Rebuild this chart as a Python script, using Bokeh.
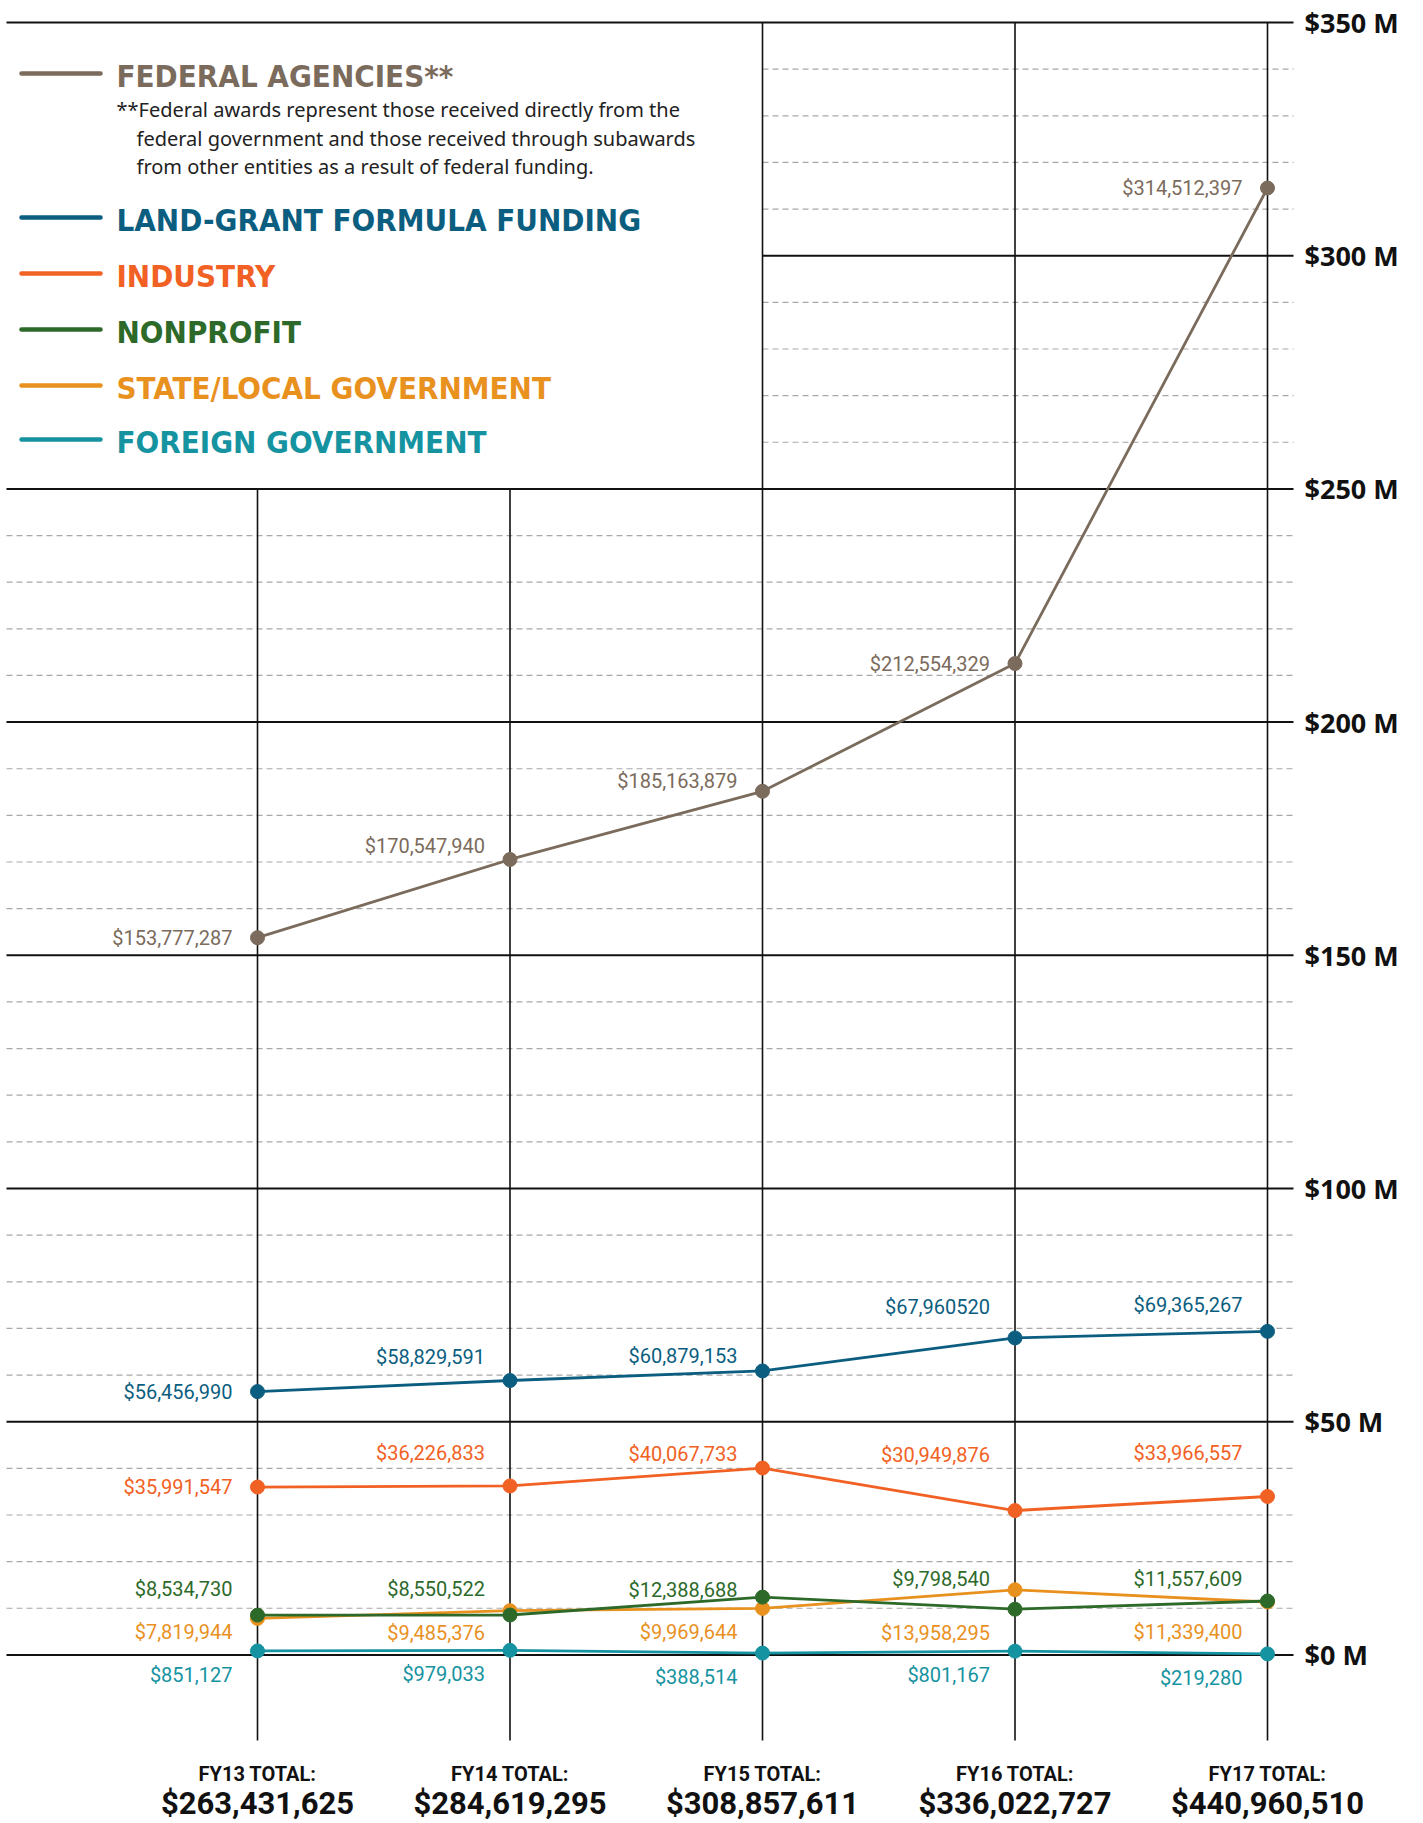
from bokeh.plotting import figure
from bokeh.models import Range1d, ColumnDataSource
from bokeh.core.properties import value
from bokeh.embed import file_html
from bokeh.resources import INLINE

# ---------------- data ----------------
years = ["FY13", "FY14", "FY15", "FY16", "FY17"]
federal = [153777287, 170547940, 185163879, 212554329, 314512397]
land_grant = [56456990, 58829591, 60879153, 67960520, 69365267]
industry = [35991547, 36226833, 40067733, 30949876, 33966557]
nonprofit = [8534730, 8550522, 12388688, 9798540, 11557609]
state_local = [7819944, 9485376, 9969644, 13958295, 11339400]
foreign = [851127, 979033, 388514, 801167, 219280]
y_ticks = [0, 50, 100, 150, 200, 250, 300, 350]
legend_names = ["FEDERAL AGENCIES**", "LAND-GRANT FORMULA FUNDING", "INDUSTRY",
                "NONPROFIT", "STATE/LOCAL GOVERNMENT", "FOREIGN GOVERNMENT"]
footnote = ["**Federal awards represent those received directly from the",
            "federal government and those received through subawards",
            "from other entities as a result of federal funding."]
label_overrides = {("land", 3): "$67,960520"}

# ---------------- styling ----------------
C_FED = "#7b6b5c"
C_LAND = "#0c5e80"
C_IND = "#f26124"
C_NON = "#2d6a2a"
C_STATE = "#e8911f"
C_FOR = "#1693a1"
LABEL_FONT = "Roboto"

W, H = 1423, 1823
X0, XS = 257.0, 252.5     # px of FY13, px per year
Y0, YS = 1654.4, 4.664    # px of $0, px per $1M


def X(px):
    return (px - X0) / XS


def Y(py):
    return (Y0 - py) / YS


p = figure(width=W, height=H, x_range=Range1d(X(0), X(W)), y_range=Range1d(Y(H), Y(0)),
           output_backend="svg", toolbar_location=None, x_axis_type=None, y_axis_type=None,
           min_border=0, min_border_left=0, min_border_right=0, min_border_top=0,
           min_border_bottom=0)
p.grid.visible = False
p.outline_line_color = None
p.background_fill_color = "white"
p.border_fill_color = "white"

LEFT = X(6)
RIGHT = X(1293)
MID = 2  # FY15 index, legend box right edge
BOTTOM = Y(1740)

# dashed minor grid lines
dx0, dx1, dy = [], [], []
for v in range(10, 350, 10):
    if v % 50 == 0:
        continue
    dx0.append(MID if v > 250 else LEFT)
    dx1.append(RIGHT)
    dy.append(v)
p.segment(x0=dx0, y0=dy, x1=dx1, y1=dy, line_color="#a8a8a8", line_width=1.2, line_dash="6 4")

# solid major lines
sx0 = [MID if v == 300 else LEFT for v in y_ticks]
p.segment(x0=sx0, y0=y_ticks, x1=[RIGHT] * len(y_ticks), y1=y_ticks,
          line_color="#111111", line_width=2)

# vertical year lines
xs = list(range(len(years)))
vtop = [250 if i < 2 else 350 for i in xs]
p.segment(x0=xs, y0=vtop, x1=xs, y1=[BOTTOM] * len(xs), line_color="#111111", line_width=1.6)

# right axis labels
p.text(x=[X(1304)] * len(y_ticks), y=y_ticks, text=[f"${v} M" for v in y_ticks],
       text_font=value("Noto Sans"), text_font_style="bold", text_font_size=value("27px"),
       text_color="#111111", text_align="left", text_baseline="middle")

# ---------------- series ----------------
series = [
    ("state", state_local, C_STATE, [14, 22, 24, 43, 30]),
    ("non", nonprofit, C_NON, [-26, -26, -7, -30, -22]),
    ("for", foreign, C_FOR, [24, 24, 24, 24, 24]),
    ("ind", industry, C_IND, [0, -33, -14, -56, -43]),
    ("land", land_grant, C_LAND, [0, -24, -15, -31, -26]),
    ("fed", federal, C_FED, [0, -13, -10, 0, 0]),
]
for key, vals, col, offs in series:
    ym = [v / 1e6 for v in vals]
    p.line(xs, ym, line_color=col, line_width=2.8)
    p.scatter(xs, ym, size=14, fill_color=col, line_color=col)
    labels = [label_overrides.get((key, i), f"${v:,}") for i, v in enumerate(vals)]
    src = ColumnDataSource(dict(x=xs, y=ym, t=labels, dy=offs, dx=[-25] * len(xs)))
    p.text(x="x", y="y", text="t", x_offset="dx", y_offset="dy", source=src,
           text_font=value(LABEL_FONT), text_font_size=value("20px"),
           text_color=col, text_align="right", text_baseline="middle")

# ---------------- legend ----------------
leg_colors = [C_FED, C_LAND, C_IND, C_NON, C_STATE, C_FOR]
leg_py = [73, 217, 273, 329, 385, 439]
p.segment(x0=[X(21)] * 6, y0=[Y(v) for v in leg_py], x1=[X(100)] * 6,
          y1=[Y(v) for v in leg_py], line_color=leg_colors, line_width=4.5, line_cap="round")
p.text(x=[X(116)] * 6, y=[Y(v + 2) for v in leg_py], text=legend_names,
       text_font=value("DejaVu Sans Condensed"), text_font_style="bold",
       text_font_size=value("31px"), text_color=leg_colors,
       text_align="left", text_baseline="middle")
p.text(x=[X(116), X(136), X(136)], y=[Y(109), Y(138), Y(166)], text=footnote,
       text_font=value("Noto Sans"), text_font_size=value("20px"), text_color="#222222",
       text_align="left", text_baseline="middle")

# ---------------- totals ----------------
totals = [sum(s[i] for s in [federal, land_grant, industry, nonprofit, state_local, foreign])
          for i in xs]
p.text(x=xs, y=[Y(1773)] * len(xs), text=[f"{y} TOTAL:" for y in years],
       text_font=value(LABEL_FONT), text_font_style="bold",
       text_font_size=value("20px"), text_color="#111111",
       text_align="center", text_baseline="middle")
p.text(x=xs, y=[Y(1803)] * len(xs), text=[f"${t:,}" for t in totals],
       text_font=value(LABEL_FONT), text_font_style="bold",
       text_font_size=value("31px"), text_color="#111111",
       text_align="center", text_baseline="middle")

open("out.html", "w").write(file_html(p, INLINE))
